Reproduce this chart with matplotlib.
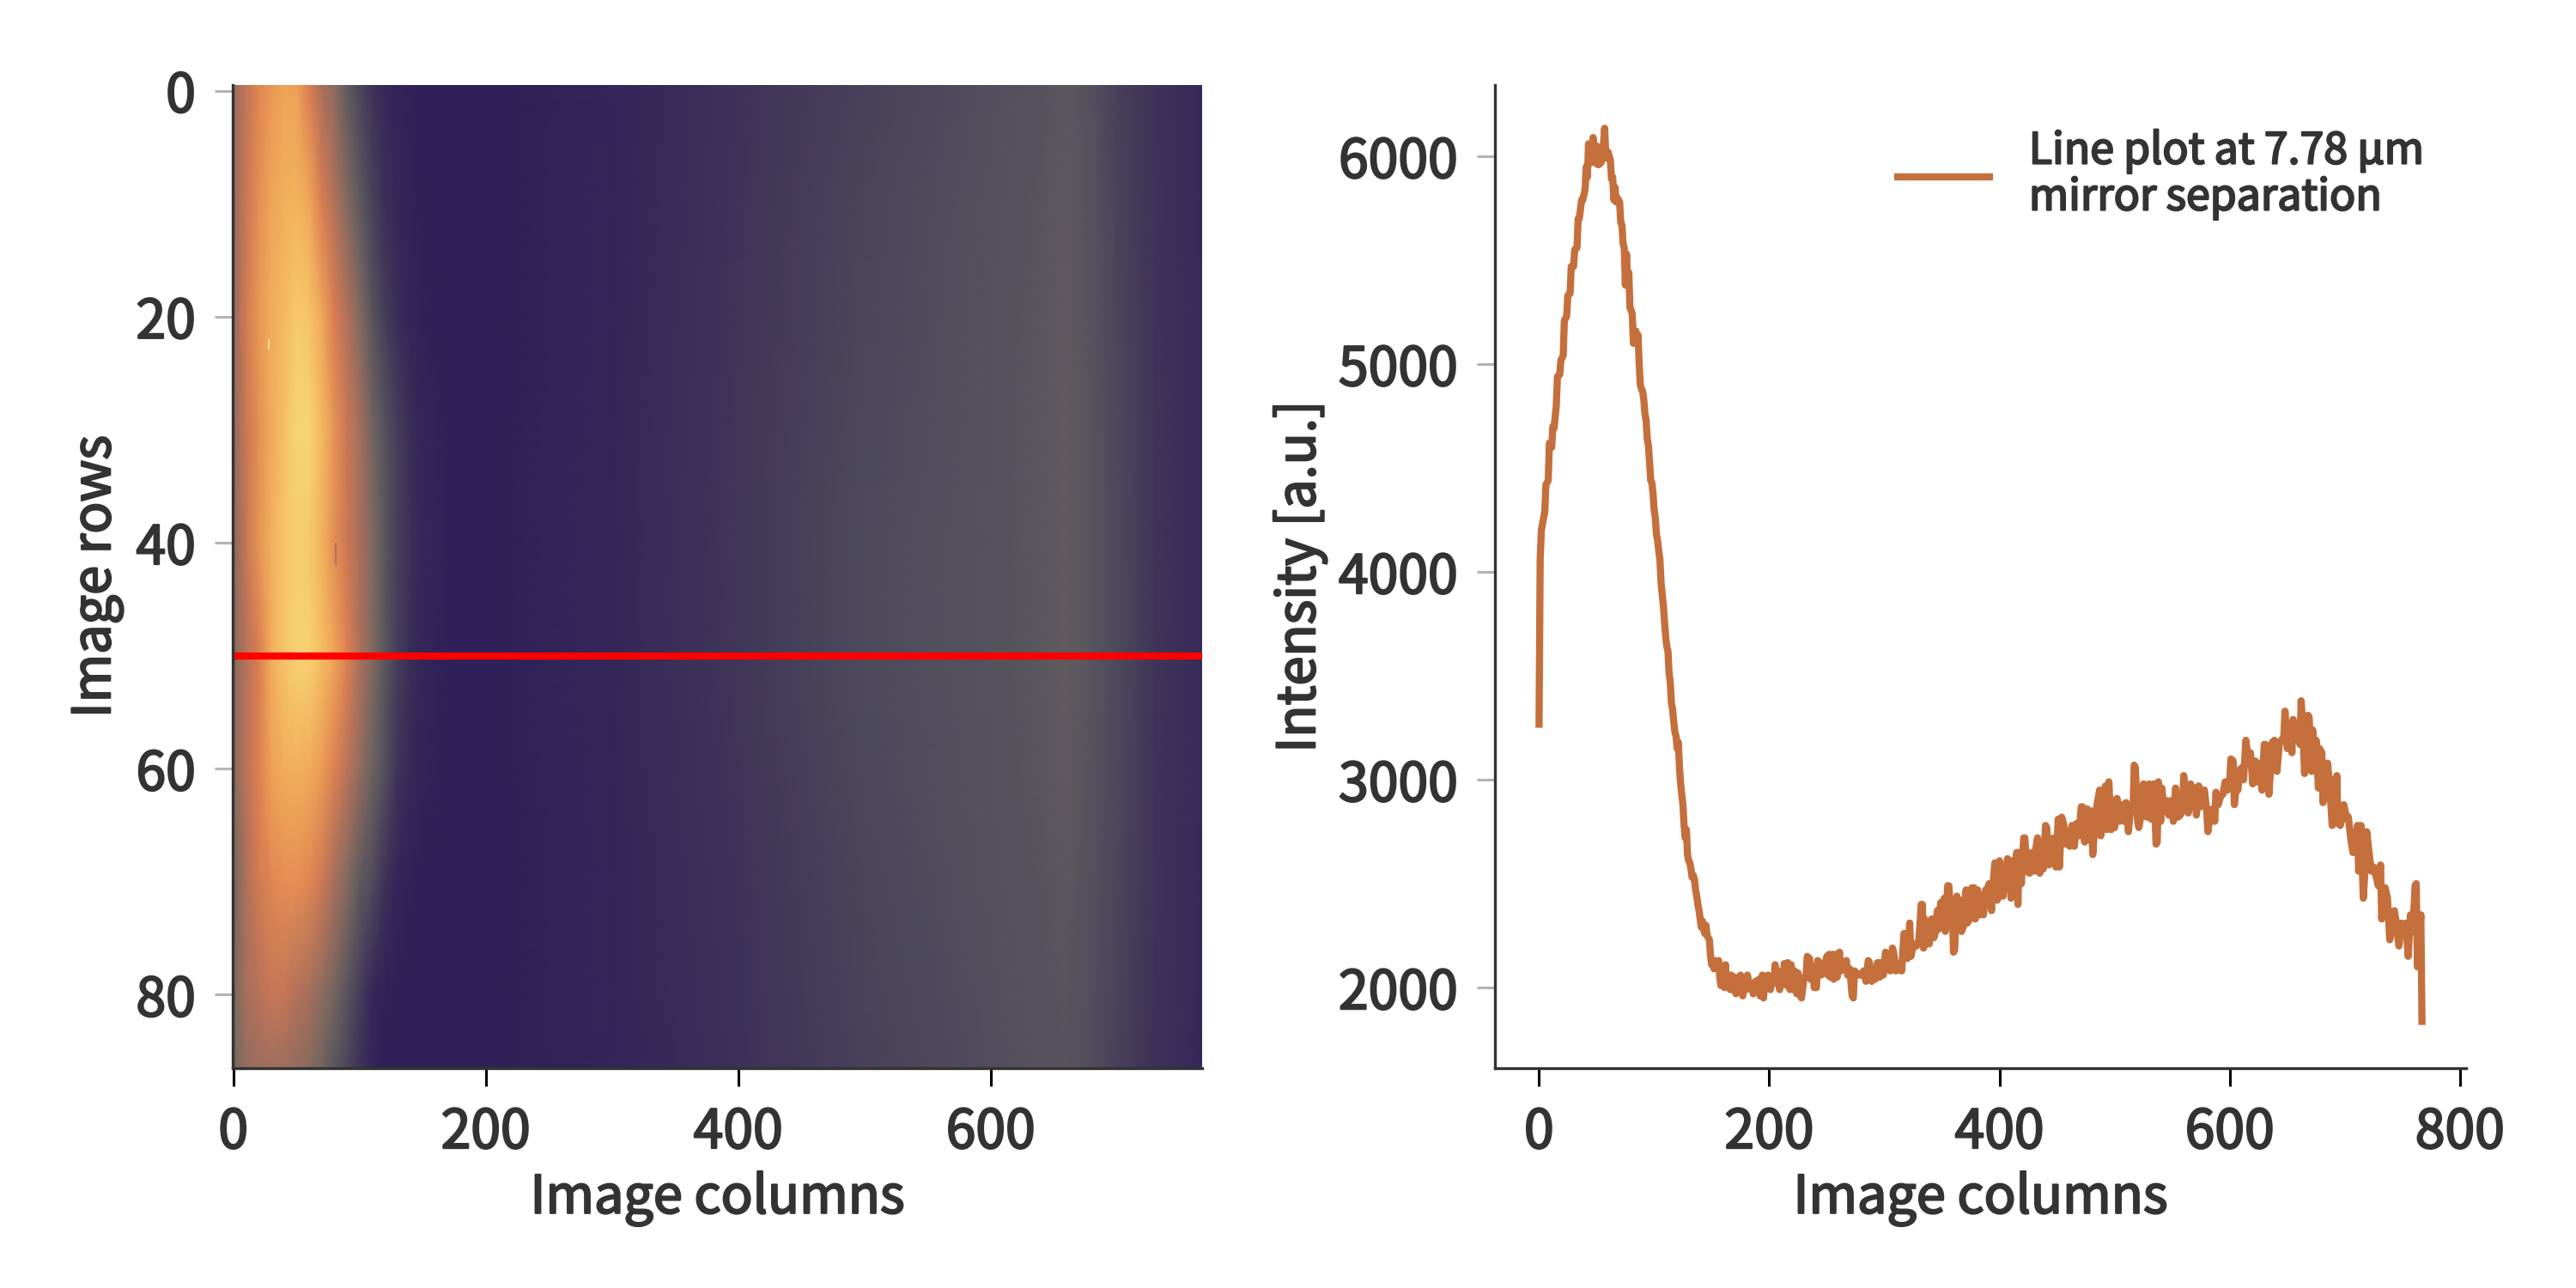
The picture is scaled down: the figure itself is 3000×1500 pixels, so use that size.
from matplotlib import pyplot as plt
from matplotlib.colors import LinearSegmentedColormap
from matplotlib import patheffects
import numpy as np

plt.rcParams['font.family'] = ['Noto Sans CJK SC', 'DejaVu Sans']

# image columns / rows where the heatmap was read
heat_cols = [-0.5, 3, 10, 20, 30, 40, 50, 60, 70, 80, 90, 100, 110, 120, 130, 140, 150, 170, 200, 300, 400, 500, 600, 640, 660, 680, 700, 730, 767.5]
heat_rows = [-0.5, 10, 20, 30, 40, 50, 60, 70, 80, 86.5]

row_00 = [3900, 4200, 4500, 4900, 5100, 5250, 5200, 4800, 4250, 3900, 3250, 2800, 2450, 2250, 2100, 2050, 2000, 1980, 1980, 2130, 2450, 2720, 2950, 3080, 3180, 3000, 2700, 2450, 2230]
row_10 = [3950, 4150, 4600, 5000, 5250, 5450, 5550, 5300, 4800, 4350, 3800, 3250, 2750, 2400, 2200, 2080, 2020, 1990, 1980, 2150, 2480, 2770, 3000, 3130, 3230, 3050, 2750, 2470, 2250]
row_20 = [4000, 4200, 4700, 5100, 5400, 5650, 5900, 5800, 5300, 4800, 4350, 3800, 3100, 2650, 2350, 2150, 2050, 2000, 1980, 2160, 2510, 2800, 3020, 3160, 3260, 3080, 2800, 2490, 2270]
row_30 = [4000, 4100, 4600, 5000, 5350, 5750, 6050, 6050, 5650, 5050, 4600, 4200, 3600, 3050, 2650, 2350, 2150, 2020, 1990, 2170, 2520, 2830, 3040, 3180, 3280, 3100, 2830, 2500, 2280]
row_40 = [3850, 4050, 4550, 5050, 5450, 5800, 5950, 5900, 5500, 5000, 4650, 4250, 3750, 3150, 2700, 2400, 2200, 2030, 2000, 2180, 2530, 2850, 3050, 3180, 3280, 3100, 2850, 2500, 2280]
row_50 = [3700, 4000, 4400, 4800, 5400, 5800, 6000, 6000, 5700, 5250, 4850, 4300, 3750, 3150, 2650, 2350, 2150, 2020, 2000, 2180, 2530, 2850, 3050, 3180, 3280, 3100, 2850, 2500, 2280]
row_60 = [3800, 4000, 4450, 4850, 5200, 5400, 5450, 5350, 5150, 4850, 4450, 4000, 3500, 3000, 2500, 2250, 2100, 2000, 1990, 2170, 2500, 2820, 3030, 3160, 3260, 3080, 2830, 2480, 2270]
row_70 = [3600, 3750, 4300, 4700, 4900, 5000, 5000, 4900, 4650, 4200, 3800, 3250, 2900, 2450, 2150, 2050, 2000, 1990, 1980, 2160, 2460, 2780, 3000, 3110, 3180, 3000, 2790, 2470, 2250]
row_80 = [3600, 3800, 4200, 4400, 4550, 4550, 4350, 4200, 3900, 3600, 3100, 2650, 2200, 2050, 2000, 1990, 1980, 1980, 1980, 2150, 2430, 2750, 2950, 3080, 3130, 2950, 2750, 2450, 2230]
row_86 = [3500, 3700, 4000, 4100, 4150, 4100, 4000, 3850, 3550, 3150, 2800, 2450, 2150, 2000, 1990, 1980, 1980, 1980, 1980, 2140, 2410, 2720, 2930, 3050, 3100, 2920, 2720, 2430, 2210]

# line profile at image row 50
line_cols = [0,1,2,3,5,6,8,9,11,12,
13,15,16,18,19,21,22,24,25,27,
28,30,31,33,34,35,37,38,40,41,
42,43,44,45,46,47,48,49,50,51,
52,53,54,55,56,57,58,59,60,61,
62,63,64,65,66,67,68,69,70,71,
72,73,74,75,76,77,78,79,80,81,
82,83,84,85,86,87,88,89,90,91,
92,93,94,95,96,97,98,99,100,101,
102,103,104,105,106,107,108,109,110,111,
112,113,114,115,116,117,118,119,120,121,
122,123,124,125,126,127,128,129,130,131,
132,133,134,135,136,137,138,139,140,141,
142,143,144,145,146,147,148,149,150,151,
152,153,154,155,156,157,158,159,160,161,
162,163,164,166,167,168,170,171,172,174,
175,177,178,180,181,183,185,186,188,189,
191,192,194,195,196,198,199,201,202,204,
205,206,208,209,211,212,213,215,216,218,
219,221,222,224,225,227,228,230,232,233,
235,236,238,239,241,242,244,245,247,248,
250,251,252,253,255,256,258,259,261,262,
264,265,267,268,270,272,273,274,276,278,
280,282,284,286,287,289,290,292,294,296,
297,299,301,302,304,305,307,308,310,312,
314,315,317,319,320,322,323,325,327,328,
330,332,333,334,335,337,338,339,341,343,
344,346,347,349,350,352,353,355,356,358,
359,360,361,363,364,366,367,369,371,372,
374,376,378,379,381,383,385,386,388,390,
391,393,395,396,398,400,402,403,405,407,
408,410,411,413,415,416,417,419,421,422,
424,426,428,430,431,433,435,437,438,440,
441,443,445,447,449,451,452,454,456,458,
460,461,463,465,467,469,471,472,474,476,
478,480,481,483,485,487,488,490,492,493,
495,497,499,500,502,504,506,508,510,512,
514,516,517,518,520,521,523,525,526,528,
530,532,534,536,537,538,540,541,543,545,
547,549,551,553,555,557,559,560,562,564,
566,568,570,571,573,575,577,578,580,581,
583,585,587,588,590,592,594,596,598,600,
601,603,604,606,607,609,611,612,614,616,
618,620,622,624,626,628,630,631,633,634,
636,637,639,641,643,645,647,648,650,652,
654,655,657,659,661,662,663,665,666,668,
669,671,672,674,675,677,678,680,681,683,
685,687,689,690,692,693,694,696,698,699,
701,703,705,707,709,711,712,714,716,717,
719,721,723,725,727,729,731,732,733,735,
737,739,741,743,745,747,749,751,753,755,
757,759,761,762,763,764,765,766,767]

line_vals = [3250,4060,4200,4230,4290,4420,4440,4620,4600,4700,
4690,4800,4940,4950,5020,5040,5210,5230,5330,5340,
5470,5470,5550,5560,5700,5700,5790,5790,5840,5950,
5900,6060,5990,6040,5970,6090,6000,5970,6050,5960,
5960,6020,5970,5990,6060,6135,6010,5990,6020,6000,
5980,5890,5900,5790,5850,5780,5800,5790,5780,5680,
5670,5580,5560,5380,5530,5380,5440,5270,5260,5240,
5100,5110,5160,5100,5140,5000,4900,4880,4870,4830,
4760,4730,4640,4610,4530,4440,4430,4380,4300,4260,
4180,4150,4100,4060,3950,3890,3840,3760,3690,3640,
3620,3510,3470,3370,3340,3280,3230,3210,3150,3180,
3060,2980,2930,2880,2780,2720,2760,2640,2610,2600,
2570,2530,2540,2520,2470,2440,2400,2370,2330,2290,
2320,2280,2260,2300,2250,2240,2230,2150,2110,2120,
2090,2130,2120,2110,2130,2050,2010,2080,2030,2000,
2110,2020,2060,1990,2060,1990,2050,1970,2040,2010,
2060,1960,2030,1990,2060,2000,2010,1970,2030,1990,
2040,1960,2060,1950,2030,2000,2060,1990,2040,2020,
2110,2020,2080,1990,2050,2020,2115,2010,2120,1990,
2110,1990,2080,1970,2070,1960,1950,2040,2060,2150,
2140,2040,2100,2000,2000,2130,2120,2060,2070,2100,
2150,2060,2160,2050,2160,2040,2160,2050,2170,2080,
2090,2120,2130,2060,2090,1960,1950,2080,2070,2060,
2060,2080,2030,2130,2120,2030,2090,2040,2120,2050,
2120,2060,2170,2160,2090,2080,2190,2170,2080,2090,
2120,2080,2260,2250,2140,2310,2150,2200,2210,2200,
2230,2400,2400,2190,2330,2210,2300,2210,2330,2240,
2260,2370,2280,2410,2300,2430,2270,2490,2490,2330,
2400,2170,2180,2440,2280,2420,2270,2300,2470,2310,
2330,2480,2480,2330,2470,2350,2440,2350,2470,2480,
2500,2370,2540,2600,2420,2610,2440,2440,2540,2620,
2610,2430,2610,2560,2650,2400,2650,2500,2720,2720,
2560,2550,2650,2560,2650,2720,2550,2600,2570,2780,
2770,2590,2650,2720,2580,2810,2580,2820,2780,2690,
2690,2680,2780,2680,2790,2730,2870,2870,2700,2860,
2710,2850,2640,2800,2890,2950,2730,2920,2970,2760,
2990,2760,2900,2770,2910,2800,2880,2800,2890,2750,
2870,2850,3070,3060,2800,2770,2830,2980,2970,2820,
2980,2810,2980,2690,2700,2990,2800,2960,2850,2900,
2830,2900,2800,2960,2820,2830,2850,3020,2880,2840,
2980,2870,2960,2830,2970,2870,2950,2950,2850,2750,
2820,2860,2800,2940,2880,2920,2930,2990,2950,3000,
3100,3090,2880,2990,2950,3050,3060,3000,3190,3100,
3130,2980,3090,2990,3080,2950,3170,3170,3050,2930,
3100,3180,3190,3040,3170,3190,3210,3330,3150,3220,
3130,3290,3200,3230,3170,3380,3300,3030,3150,3310,
3300,3040,3240,3100,3190,2960,3150,3130,2890,3050,
3080,2950,2780,3000,2820,3020,2790,2780,2820,2880,
2830,2820,2720,2650,2700,2780,2560,2780,2430,2520,
2750,2650,2560,2580,2540,2490,2590,2330,2420,2480,
2430,2230,2300,2370,2300,2200,2310,2260,2310,2150,
2350,2270,2490,2500,2100,2350,2240,2350,1820]

text_color = '#333333'
line_color = '#c46f3c'
W, H = 3000, 1500

cmap_vals = [2000, 2500, 2850, 3150, 3400, 3750, 4300, 4800, 5250, 5700, 6100]
cmap_cols = ['#2e2058', '#3f3558', '#4e4a5c', '#5a565e', '#66605f', '#806a60', '#ae705c', '#da7c50', '#f0a458', '#f5bc60', '#f7d878']
cmap = LinearSegmentedColormap.from_list('beam', [((v - 2000) / 4100, c) for v, c in zip(cmap_vals, cmap_cols)])

fig = plt.figure(figsize=(15, 7.5), dpi=200)
ax1 = fig.add_axes([271 / W, 1 - 1244 / H, (1400 - 271) / W, (1244 - 99) / H])
ax2 = fig.add_axes([1741 / W, 1 - 1244 / H, (2872 - 1741) / W, (1244 - 99) / H])

heat = np.array([row_00, row_10, row_20, row_30, row_40, row_50, row_60, row_70, row_80, row_86])
ax1.pcolormesh(heat_cols, heat_rows, heat, shading='gouraud', cmap=cmap, vmin=2000, vmax=6100)
ax1.vlines(28, 22, 23, color='#f8e090', linewidth=0.7)
ax1.vlines(81, 40, 42, color='#b8705c', linewidth=0.8)
ax1.axhline(50, color='red', linewidth=3)
ax1.set_xlim(-0.5, 767.5)
ax1.set_ylim(86.5, -0.5)
ax1.set_xticks([0, 200, 400, 600])
ax1.set_yticks([0, 20, 40, 60, 80])
ax1.set_ylabel('Image rows', va='center')
ax1.yaxis.set_label_coords((112 - 271) / (1400 - 271), 0.5)

ax2.plot(line_cols, line_vals, color=line_color, linewidth=3, solid_capstyle='butt', label='Line plot at 7.78 µm\nmirror separation')
ax2.set_xlim(-38.3, 805.3)
ax2.set_ylim(1612, 6343)
ax2.set_xticks([0, 200, 400, 600, 800])
ax2.set_yticks([2000, 3000, 4000, 5000, 6000])
ax2.set_ylabel('Intensity [a.u.]', va='center')
ax2.yaxis.set_label_coords((1514 - 1741) / (2872 - 1741), 0.5)
leg = ax2.legend(loc='upper left', bbox_to_anchor=(0.411, 0.955), frameon=False, fontsize=18, labelcolor=text_color,
                 handlelength=2.3, handletextpad=0.84, labelspacing=0, borderpad=0, borderaxespad=0)
leg.get_texts()[0].set_linespacing(1.05)

heavier = [patheffects.withStroke(linewidth=0.8, foreground=text_color)]
for ax in (ax1, ax2):
    ax.spines['top'].set_visible(False)
    ax.spines['right'].set_visible(False)
    ax.spines['left'].set_color(text_color)
    ax.spines['bottom'].set_color(text_color)
    ax.spines['left'].set_linewidth(1.2)
    ax.spines['bottom'].set_linewidth(1.2)
    ax.tick_params(axis='both', labelsize=22.5, labelcolor=text_color, width=1.1, pad=8, length=7.5)
    ax.tick_params(axis='x', color='black')
    ax.tick_params(axis='y', color='#b4b4b4')
    ax.set_xlabel('Image columns', fontsize=22, color=text_color, va='center')
    ax.xaxis.set_label_coords(0.5, (1244 - 1396) / (1244 - 99))
    ax.yaxis.label.set_fontsize(22)
    ax.yaxis.label.set_color(text_color)
    ax.xaxis.label.set_path_effects(heavier)
    ax.yaxis.label.set_path_effects(heavier)
    for t in ax.get_xticklabels() + ax.get_yticklabels():
        t.set_path_effects(heavier)
leg.get_texts()[0].set_path_effects(heavier)

plt.savefig('out.png', dpi=200)
